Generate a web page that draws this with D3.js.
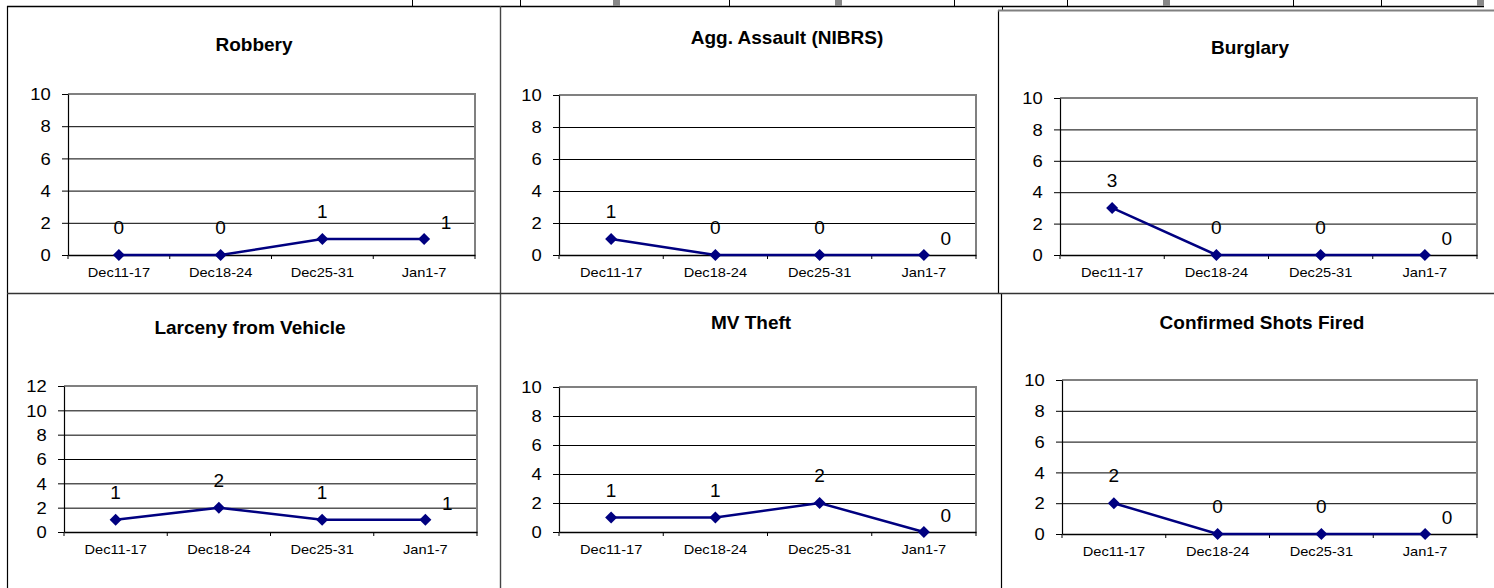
<!DOCTYPE html>
<html>
<head>
<meta charset="utf-8">
<script src="https://cdn.jsdelivr.net/npm/d3@7/dist/d3.min.js"></script>
<style>
  html, body { margin: 0; padding: 0; background: #fff; }
  svg { display: block; font-family: "Liberation Sans", Arial, sans-serif; }
</style>
</head>
<body>
<svg id="chart" width="1494" height="588"></svg>
<script>
// ---- Data ----
const categories = ["Dec11-17", "Dec18-24", "Dec25-31", "Jan1-7"];
const titles = ["Robbery", "Agg. Assault (NIBRS)", "Burglary",
                "Larceny from Vehicle", "MV Theft", "Confirmed Shots Fired"];
const robbery     = [0, 0, 1, 1];
const aggAssault  = [1, 0, 0, 0];
const burglary    = [3, 0, 0, 0];
const larceny     = [1, 2, 1, 1];
const mvTheft     = [1, 1, 2, 0];
const shotsFired  = [2, 0, 0, 0];
const yTicks10 = [0, 2, 4, 6, 8, 10];
const yTicks12 = [0, 2, 4, 6, 8, 10, 12];

// ---- Layout (positions only) ----
const layout = [
  { values: robbery,    ticks: yTicks10, x0: 68,   x1: 475,  y0: 94,  y1: 255, tx: 254,  ty: 51 },
  { values: aggAssault, ticks: yTicks10, x0: 559,  x1: 976,  y0: 95,  y1: 255, tx: 787,  ty: 44 },
  { values: burglary,   ticks: yTicks10, x0: 1060, x1: 1477, y0: 98,  y1: 255, tx: 1250, ty: 54 },
  { values: larceny,    ticks: yTicks12, x0: 64,   x1: 477,  y0: 386, y1: 532, tx: 250,  ty: 334 },
  { values: mvTheft,    ticks: yTicks10, x0: 559,  x1: 976,  y0: 387, y1: 532, tx: 751,  ty: 329 },
  { values: shotsFired, ticks: yTicks10, x0: 1062, x1: 1477, y0: 380, y1: 534, tx: 1262, ty: 329 }
];
const topStripTicks = [412, 520, 729, 954, 1067, 1293, 1381];
const topStripBlocks = [613, 835, 1163, 1477];

const svg = d3.select("#chart");
const navy = "#000080";

// ---- Page frame / table borders ----
const frame = svg.append("g");
frame.append("line").attr("x1", 7).attr("x2", 1484).attr("y1", 6.5).attr("y2", 6.5)
  .attr("stroke", "#000").attr("stroke-width", 1.3);
topStripTicks.forEach(x => frame.append("line").attr("x1", x + 0.5).attr("x2", x + 0.5)
  .attr("y1", 0).attr("y2", 6.5).attr("stroke", "#000").attr("stroke-width", 1));
topStripBlocks.forEach(x => frame.append("rect").attr("x", x).attr("y", 0)
  .attr("width", 7).attr("height", 6).attr("fill", "#888"));
// panel borders
frame.append("line").attr("x1", 7.5).attr("x2", 7.5).attr("y1", 6).attr("y2", 588)
  .attr("stroke", "#000").attr("stroke-width", 1.2);
frame.append("line").attr("x1", 500.5).attr("x2", 500.5).attr("y1", 6).attr("y2", 588)
  .attr("stroke", "#444").attr("stroke-width", 1.4);
frame.append("line").attr("x1", 1002.5).attr("x2", 1002.5).attr("y1", 6).attr("y2", 10)
  .attr("stroke", "#000").attr("stroke-width", 1);
frame.append("line").attr("x1", 998.5).attr("x2", 998.5).attr("y1", 10).attr("y2", 293)
  .attr("stroke", "#000").attr("stroke-width", 1.2);
frame.append("line").attr("x1", 1001.5).attr("x2", 1001.5).attr("y1", 293).attr("y2", 588)
  .attr("stroke", "#000").attr("stroke-width", 1.2);
frame.append("line").attr("x1", 998).attr("x2", 1494).attr("y1", 10.5).attr("y2", 10.5)
  .attr("stroke", "#808080").attr("stroke-width", 2);
frame.append("line").attr("x1", 7).attr("x2", 1494).attr("y1", 293.5).attr("y2", 293.5)
  .attr("stroke", "#333").attr("stroke-width", 1.3);

// ---- Charts ----
layout.forEach((p, i) => {
  const g = svg.append("g");
  const x = d3.scaleBand().domain(categories).range([p.x0, p.x1]).padding(0);
  const ymax = d3.max(p.ticks);
  const y = d3.scaleLinear().domain([0, ymax]).range([p.y1, p.y0]);
  const w = p.x1 - p.x0;

  // title
  g.append("text").attr("x", p.tx).attr("y", p.ty).attr("text-anchor", "middle")
    .attr("font-size", 19).attr("font-weight", "bold").attr("fill", "#000").text(titles[i]);

  // gridlines
  const grid = g.append("g").attr("transform", `translate(${p.x0},0)`)
    .call(d3.axisLeft(y).tickValues(p.ticks.filter(t => t > 0 && t < ymax)).tickSize(-w).tickFormat(""));
  grid.select(".domain").remove();
  grid.selectAll("line").attr("stroke", "#000").attr("stroke-width", 1);

  // plot frame top/right grey
  g.append("path")
    .attr("d", `M${p.x0},${y(ymax)}H${p.x1}V${y(0)}`)
    .attr("fill", "none").attr("stroke", "#808080").attr("stroke-width", 2);

  // y axis
  const ya = g.append("g").attr("transform", `translate(${p.x0},0)`)
    .call(d3.axisLeft(y).tickValues(p.ticks).tickSize(6).tickSizeOuter(0).tickFormat(d3.format("d")));
  ya.select(".domain").attr("stroke", "#000").attr("stroke-width", 1.2);
  ya.selectAll("line").attr("stroke", "#000");
  ya.selectAll("text").attr("font-size", 16).attr("font-family", "Liberation Sans, Arial, sans-serif")
    .attr("fill", "#000").attr("x", -15).attr("dy", "0.36em")
    .attr("transform", "scale(1.15,1)");

  // x axis
  const xa = g.append("g").attr("transform", `translate(0,${y(0)})`)
    .call(d3.axisBottom(x).tickSize(0).tickSizeOuter(0));
  xa.select(".domain").attr("stroke", "#000").attr("stroke-width", 1.6);
  xa.selectAll("text").attr("font-size", 12).attr("font-family", "Liberation Sans, Arial, sans-serif")
    .attr("fill", "#000").attr("y", 22).attr("dy", 0)
    .attr("transform", "scale(1.22,1)");
  // boundary tick marks
  const bounds = categories.map(c => x(c)).concat([p.x1]);
  g.append("g").selectAll("line").data(bounds).join("line")
    .attr("x1", d => d).attr("x2", d => d)
    .attr("y1", y(0)).attr("y2", y(0) + 4)
    .attr("stroke", "#000").attr("stroke-width", 1);

  // line
  const pts = p.values.map((v, k) => ({ c: categories[k], v, k }));
  const line = d3.line().x(d => x(d.c) + x.bandwidth() / 2).y(d => y(d.v));
  g.append("path").datum(pts).attr("d", line)
    .attr("fill", "none").attr("stroke", navy).attr("stroke-width", 2.5);

  // markers
  g.append("g").selectAll("path").data(pts).join("path")
    .attr("transform", d => `translate(${x(d.c) + x.bandwidth() / 2},${y(d.v)})`)
    .attr("d", "M0,-6L6,0L0,6L-6,0Z").attr("fill", navy);

  // data labels
  g.append("g").selectAll("text").data(pts).join("text")
    .attr("x", d => x(d.c) + x.bandwidth() / 2 + (d.k === pts.length - 1 ? 22 : 0))
    .attr("y", d => y(d.v) - (d.k === pts.length - 1 ? 10 : 21))
    .attr("text-anchor", "middle").attr("font-size", 19).attr("fill", "#000")
    .text(d => d.v);
});
</script>
</body>
</html>
